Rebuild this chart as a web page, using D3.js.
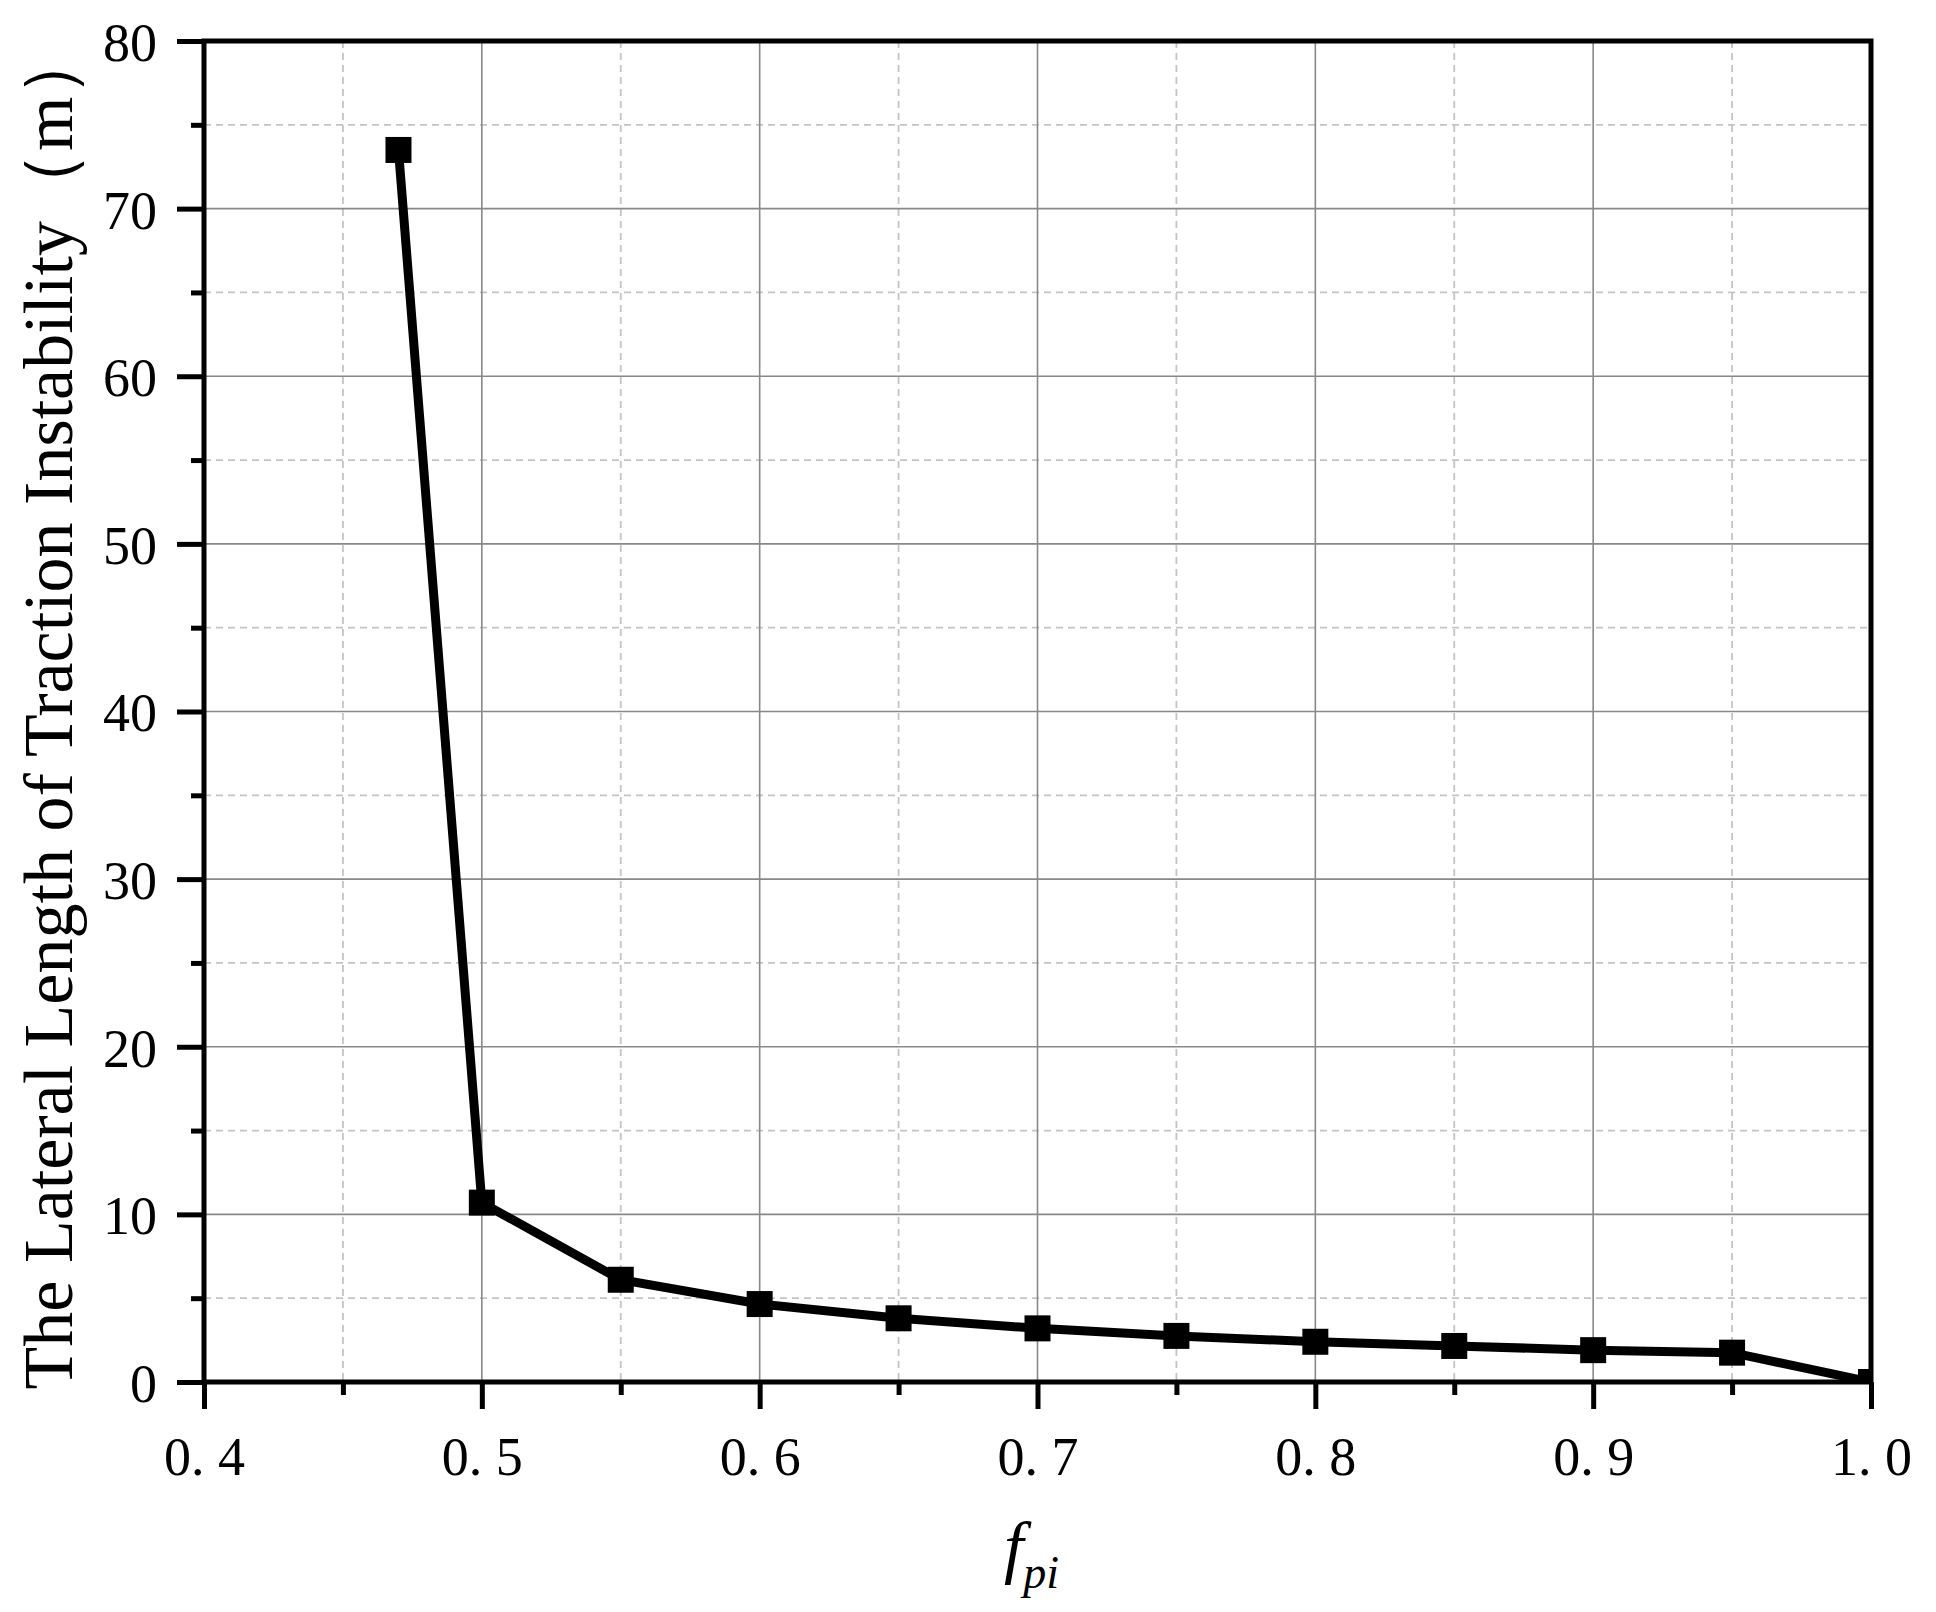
<!DOCTYPE html>
<html>
<head>
<meta charset="utf-8">
<script src="https://cdn.jsdelivr.net/npm/d3@7"></script>
<style>
  html, body { margin: 0; padding: 0; background: #fff; }
  svg { display: block; }
  text { font-family: "Liberation Serif", "Times New Roman", serif; fill: #000; }
</style>
</head>
<body>
<svg id="chart" width="1936" height="1612"></svg>
<script>
// ---- data ----
const fpi = [0.47, 0.50, 0.55, 0.60, 0.65, 0.70, 0.75, 0.80, 0.85, 0.90, 0.95, 1.00];
const lateralLength = [73.5, 10.7, 6.1, 4.65, 3.8, 3.2, 2.75, 2.4, 2.15, 1.9, 1.75, 0.0];
const xMajorTicks = [0.4, 0.5, 0.6, 0.7, 0.8, 0.9, 1.0];
const xTickLabels = ["0. 4", "0. 5", "0. 6", "0. 7", "0. 8", "0. 9", "1. 0"];
const xMinorTicks = [0.45, 0.55, 0.65, 0.75, 0.85, 0.95];
const yMajorTicks = [0, 10, 20, 30, 40, 50, 60, 70, 80];
const yTickLabels = ["0", "10", "20", "30", "40", "50", "60", "70", "80"];
const yMinorTicks = [5, 15, 25, 35, 45, 55, 65, 75];
const yTitle = "The Lateral Length of Traction Instability（m）";

// ---- layout ----
const L = 204, R = 1871, T = 41, B = 1382;
const svg = d3.select("#chart");
const x = d3.scaleLinear().domain([0.4, 1.0]).range([L, R]);
const y = d3.scaleLinear().domain([0, 80]).range([B, T]);

// clip
svg.append("defs").append("clipPath").attr("id", "plotclip")
  .append("rect").attr("x", L).attr("y", T).attr("width", R - L).attr("height", B - T);

// ---- grid ----
const grid = svg.append("g");
grid.selectAll(".gyMinor").data(yMinorTicks).enter().append("line")
  .attr("x1", L).attr("x2", R).attr("y1", d => y(d)).attr("y2", d => y(d))
  .attr("stroke", "#c4c4c4").attr("stroke-width", 1.8).attr("stroke-dasharray", "7,5");
grid.selectAll(".gxMinor").data(xMinorTicks).enter().append("line")
  .attr("y1", T).attr("y2", B).attr("x1", d => x(d)).attr("x2", d => x(d))
  .attr("stroke", "#c4c4c4").attr("stroke-width", 1.8).attr("stroke-dasharray", "7,5");
grid.selectAll(".gyMajor").data(yMajorTicks.filter(d => d > 0 && d < 80)).enter().append("line")
  .attr("x1", L).attr("x2", R).attr("y1", d => y(d)).attr("y2", d => y(d))
  .attr("stroke", "#888").attr("stroke-width", 1.6);
grid.selectAll(".gxMajor").data(xMajorTicks.filter(d => d > 0.4 && d < 1.0)).enter().append("line")
  .attr("y1", T).attr("y2", B).attr("x1", d => x(d)).attr("x2", d => x(d))
  .attr("stroke", "#888").attr("stroke-width", 1.6);

// ---- data line + markers ----
const pts = fpi.map((v, i) => [v, lateralLength[i]]);
const plot = svg.append("g").attr("clip-path", "url(#plotclip)");
plot.append("path").datum(pts)
  .attr("d", d3.line().x(d => x(d[0])).y(d => y(d[1])))
  .attr("fill", "none").attr("stroke", "#000").attr("stroke-width", 9)
  .attr("stroke-linejoin", "miter");
const ms = 26;
plot.selectAll(".mk").data(pts).enter().append("rect")
  .attr("x", d => x(d[0]) - ms / 2).attr("y", d => y(d[1]) - ms / 2)
  .attr("width", ms).attr("height", ms).attr("fill", "#000");

// ---- axes ----
function styleAxis(g) {
  g.attr("font-family", null);
  g.select(".domain").remove();
  g.selectAll(".tick line").attr("stroke", "#000").attr("stroke-width", 5);
}
const xAxisMajor = svg.append("g").attr("transform", `translate(0,${B})`)
  .call(d3.axisBottom(x).tickValues(xMajorTicks).tickSize(27)
    .tickFormat((d, i) => xTickLabels[i]));
styleAxis(xAxisMajor);
xAxisMajor.selectAll(".tick text").attr("font-size", 54).attr("dy", null)
  .attr("y", 93);
const xAxisMinor = svg.append("g").attr("transform", `translate(0,${B})`)
  .call(d3.axisBottom(x).tickValues(xMinorTicks).tickSize(13).tickFormat(""));
styleAxis(xAxisMinor);

const yAxisMajor = svg.append("g").attr("transform", `translate(${L},0)`)
  .call(d3.axisLeft(y).tickValues(yMajorTicks).tickSize(27)
    .tickFormat((d, i) => yTickLabels[i]));
styleAxis(yAxisMajor);
yAxisMajor.selectAll(".tick text").attr("font-size", 54).attr("x", -47)
  .attr("dy", "0.36em");
const yAxisMinor = svg.append("g").attr("transform", `translate(${L},0)`)
  .call(d3.axisLeft(y).tickValues(yMinorTicks).tickSize(13).tickFormat(""));
styleAxis(yAxisMinor);

// frame
svg.append("rect").attr("x", L).attr("y", T).attr("width", R - L).attr("height", B - T)
  .attr("fill", "none").attr("stroke", "#000").attr("stroke-width", 5);

// ---- titles ----
svg.append("text")
  .attr("transform", `translate(72,708) rotate(-90)`)
  .attr("text-anchor", "middle").attr("font-size", 70)
  .text(yTitle);

const xt = svg.append("text").attr("x", (L + R) / 2 - 6).attr("y", 1570)
  .attr("text-anchor", "middle").attr("font-style", "italic");
xt.append("tspan").attr("font-size", 70).text("f");
xt.append("tspan").attr("font-size", 46).attr("dy", 18).text("pi");
</script>
</body>
</html>
